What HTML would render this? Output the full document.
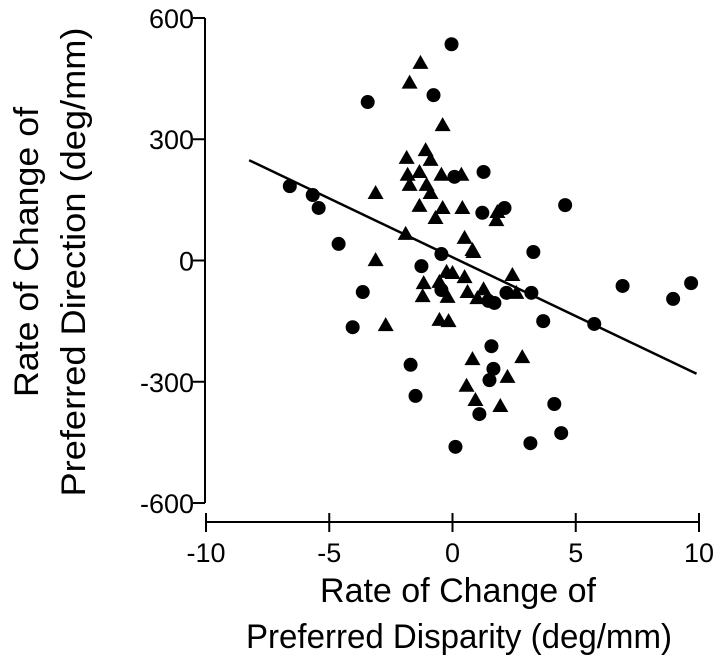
<!DOCTYPE html>
<html><head><meta charset="utf-8"><style>
html,body{margin:0;padding:0;background:#fff;}
svg{display:block;font-family:"Liberation Sans",Arial,sans-serif;}
</style></head><body>
<svg id="chart" width="720" height="671" viewBox="0 0 720 671" xmlns="http://www.w3.org/2000/svg"></svg>
<script>
const circleX=[-6.6,-5.67,-5.43,-4.62,-3.64,-4.05,-3.44,-0.77,-0.04,1.26,1.21,2.11,0.08,-1.26,-0.45,-0.45,-1.7,-1.5,0.12,1.09,1.58,1.66,1.5,2.19,1.7,1.46,3.2,3.28,3.68,4.13,4.41,3.16,4.57,5.75,6.9,8.95,9.68];
const circleY=[184,162,130,41,-78,-165,392,409,535,219,118,130,207,-14,16,-73,-258,-335,-461,-380,-212,-268,-296,-80,-105,-100,-80,21,-150,-355,-427,-452,137,-157,-63,-95,-56];
const triX=[-1.3,-1.74,-0.4,-1.09,-1.86,-0.89,-1.82,-1.34,-0.45,0.36,-1.74,-1.05,-0.89,-3.12,-1.34,-0.4,0.4,-0.69,1.82,1.78,-1.9,0.49,0.81,-3.12,0.85,-0.24,0,0.49,-1.17,-1.21,-0.53,-0.2,0.61,1.26,1.01,2.43,2.59,-0.53,-0.16,-2.71,0.81,2.83,2.23,0.57,0.93,1.94];
const triY=[489,440,335,273,254,249,212,219,212,212,187,187,167,167,135,130,130,105,120,100,66,56,26,1,21,-28,-31,-41,-56,-88,-53,-90,-78,-71,-93,-36,-80,-147,-150,-160,-244,-239,-288,-310,-345,-360];
const xTicks=[-10,-5,0,5,10];
const yTicks=[600,300,0,-300,-600];
const fitX=[-8.25,9.9];
const fitIntercept=8;
const fitSlope=-29.1;

const NS="http://www.w3.org/2000/svg";
const svg=document.getElementById('chart');
const sx=v=>206+(v+10)*24.65;
const sy=v=>260.5-v*0.4042;
function mk(tag,attrs,parent){const e=document.createElementNS(NS,tag);for(const k in attrs)e.setAttribute(k,attrs[k]);(parent||svg).appendChild(e);return e;}

const ya=mk('g',{});


mk('line',{x1:205,y1:sy(600),x2:205,y2:sy(-600),stroke:'#000','stroke-width':2},ya);
yTicks.forEach(t=>{
  const l=mk('line',{x1:193,y1:sy(t),x2:205,y2:sy(t),stroke:'#000','stroke-width':2},ya);
  
  
  const tx=mk('text',{x:194,y:sy(t)+10,'text-anchor':'end','font-size':27},ya);
  
  
  tx.textContent=t;
});
const xa=mk('g',{});


mk('line',{x1:sx(-10),y1:522,x2:sx(10),y2:522,stroke:'#000','stroke-width':2},xa);
xTicks.forEach(t=>{
  const l=mk('line',{x1:sx(t),y1:513,x2:sx(t),y2:532,stroke:'#000','stroke-width':2},xa);
  
  
  const tx=mk('text',{x:sx(t),y:562,'text-anchor':'middle','font-size':27},xa);
  
  
  tx.textContent=t;
});
const fl=mk('line',{x1:sx(fitX[0]),y1:sy(fitIntercept+fitSlope*fitX[0]),x2:sx(fitX[1]),y2:sy(fitIntercept+fitSlope*fitX[1]),stroke:'#000','stroke-width':2.5});


circleX.forEach((v,i)=>{
  const c=mk('circle',{cx:sx(v),cy:sy(circleY[i]),r:7,fill:'#000'});
  
  
});
triX.forEach((v,i)=>{
  const x=sx(v),y=sy(triY[i]);
  const p=mk('polygon',{points:`${x},${y-8} ${x-8},${y+6} ${x+8},${y+6}`,fill:'#000'});
  
  
});
const xt1=mk('text',{x:458,y:602,'text-anchor':'middle','font-size':34});


xt1.textContent='Rate of Change of';
const xt2=mk('text',{x:459,y:648,'text-anchor':'middle','font-size':34,textLength:426,lengthAdjust:'spacingAndGlyphs'});


xt2.textContent='Preferred Disparity (deg/mm)';
const yt1=mk('text',{x:0,y:0,'text-anchor':'middle','font-size':34,textLength:290,lengthAdjust:'spacingAndGlyphs',transform:'translate(38,252) rotate(-90)'});


yt1.textContent='Rate of Change of';
const yt2=mk('text',{x:0,y:0,'text-anchor':'middle','font-size':34,textLength:469,lengthAdjust:'spacingAndGlyphs',transform:'translate(85,262) rotate(-90)'});


yt2.textContent='Preferred Direction (deg/mm)';
</script>
</body></html>
